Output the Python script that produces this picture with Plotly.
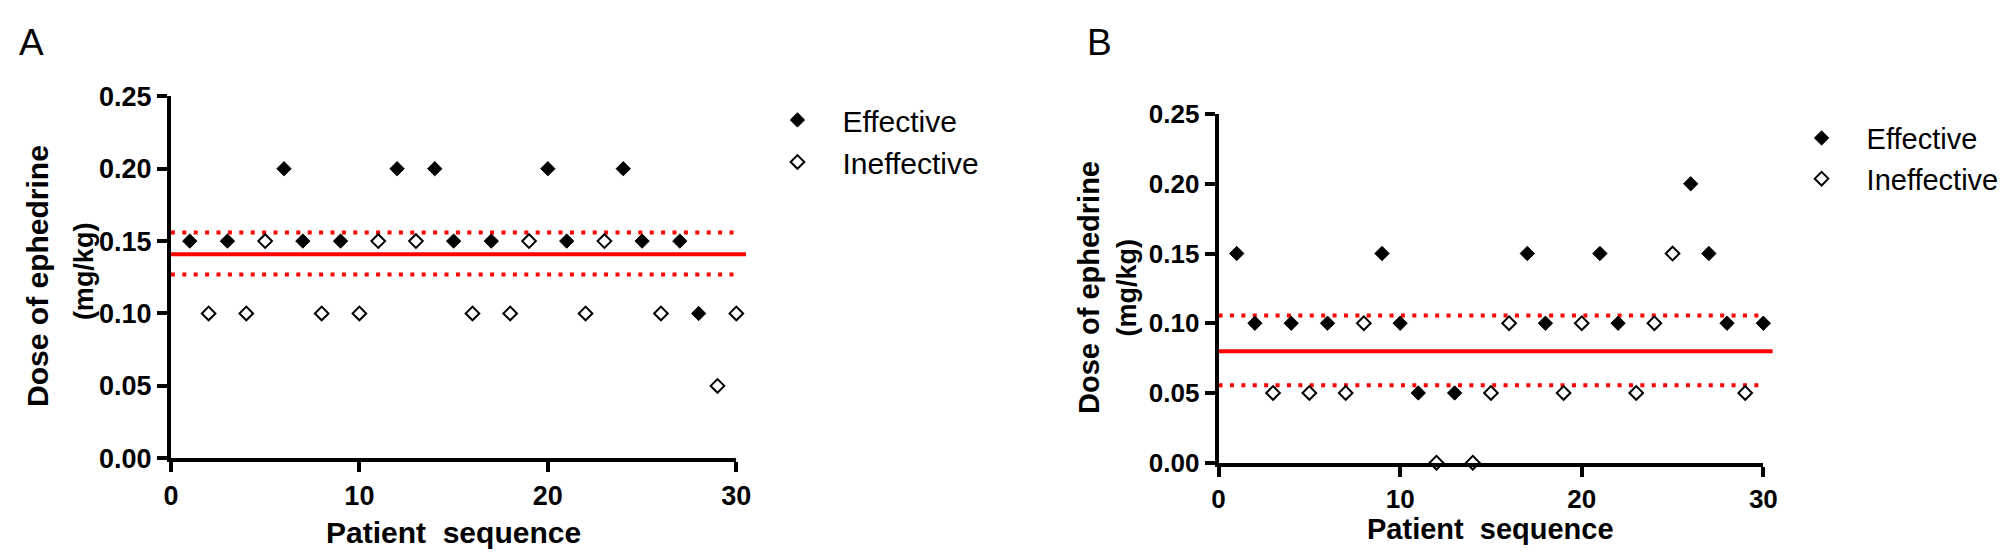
import plotly.graph_objects as go

W, H = 2007, 558

# ---------------- data ----------------
patients = list(range(1, 31))

# Panel A: dose (mg/kg) and response (1 = effective, 0 = ineffective)
dose_a = [0.15, 0.10, 0.15, 0.10, 0.15, 0.20, 0.15, 0.10, 0.15, 0.10,
          0.15, 0.20, 0.15, 0.20, 0.15, 0.10, 0.15, 0.10, 0.15, 0.20,
          0.15, 0.10, 0.15, 0.20, 0.15, 0.10, 0.15, 0.10, 0.05, 0.10]
resp_a = [1, 0, 1, 0, 0, 1, 1, 0, 1, 0,
          0, 1, 0, 1, 1, 0, 1, 0, 0, 1,
          1, 0, 0, 1, 1, 0, 1, 1, 0, 0]

# Panel B
dose_b = [0.15, 0.10, 0.05, 0.10, 0.05, 0.10, 0.05, 0.10, 0.15, 0.10,
          0.05, 0.00, 0.05, 0.00, 0.05, 0.10, 0.15, 0.10, 0.05, 0.10,
          0.15, 0.10, 0.05, 0.10, 0.15, 0.20, 0.15, 0.10, 0.05, 0.10]
resp_b = [1, 1, 0, 1, 0, 1, 0, 0, 1, 1,
          1, 0, 1, 0, 0, 0, 1, 1, 0, 0,
          1, 1, 0, 0, 0, 1, 1, 1, 0, 1]

# ED50 and 95% CI lines
ed50_a, ci_lo_a, ci_hi_a = 0.141, 0.127, 0.156
ed50_b, ci_lo_b, ci_hi_b = 0.080, 0.0555, 0.1055
ci_x = [0, 30.1]

x_ticks = [0, 10, 20, 30]
y_ticks = [0.00, 0.05, 0.10, 0.15, 0.20, 0.25]
legend_names = ["Effective", "Ineffective"]

# ---------------- figure ----------------
fig = go.Figure()
RED = "#FF0000"
FONT = "Liberation Sans, Arial, sans-serif"


def add_panel(dose, resp, ed50, lo, hi, xa, ya, legend):
    for yv in (hi, lo):
        fig.add_trace(go.Scatter(x=ci_x, y=[yv, yv], mode="lines", xaxis=xa, yaxis=ya,
                                 line=dict(color=RED, width=4, dash="4px,7.4px"),
                                 showlegend=False, hoverinfo="skip", cliponaxis=False))
    # ED50 line: spans the whole axis width (slightly past the last tick)
    fig.add_shape(type="line", xref=xa + " domain", yref=ya, x0=0, x1=1.017,
                  y0=ed50, y1=ed50, line=dict(color=RED, width=4), layer="below")
    ex = [p for p, r in zip(patients, resp) if r == 1]
    ey = [d for d, r in zip(dose, resp) if r == 1]
    ix = [p for p, r in zip(patients, resp) if r == 0]
    iy = [d for d, r in zip(dose, resp) if r == 0]
    fig.add_trace(go.Scatter(x=ex, y=ey, mode="markers", name=legend_names[0],
                             xaxis=xa, yaxis=ya, legend=legend, legendgroup=legend + "e",
                             marker=dict(symbol="diamond", size=11, color="black",
                                         line=dict(color="black", width=1)),
                             cliponaxis=False))
    fig.add_trace(go.Scatter(x=ix, y=iy, mode="markers", name=legend_names[1],
                             xaxis=xa, yaxis=ya, legend=legend, legendgroup=legend + "i",
                             marker=dict(symbol="diamond", size=10.5, color="white",
                                         line=dict(color="black", width=2)),
                             cliponaxis=False))


add_panel(dose_a, resp_a, ed50_a, ci_lo_a, ci_hi_a, "x", "y", "legend")
add_panel(dose_b, resp_b, ed50_b, ci_lo_b, ci_hi_b, "x2", "y2", "legend2")


def xdom(a, b):
    return [a / W, b / W]


def ydom(top, bottom):
    return [(H - bottom) / H, (H - top) / H]


def axis_style(fsz):
    return dict(showline=True, linecolor="black", linewidth=4, ticks="outside",
                ticklen=10, tickwidth=4, tickcolor="black", showgrid=False,
                zeroline=False, layer="above traces",
                tickfont=dict(family=FONT, size=fsz, color="black", weight="bold"))


fig.update_layout(
    width=W, height=H, margin=dict(l=0, r=0, t=0, b=0),
    paper_bgcolor="white", plot_bgcolor="white",
    xaxis=dict(domain=xdom(156.7, 728.7), range=[0, 30], tickvals=x_ticks, anchor="y",
               **axis_style(27)),
    yaxis=dict(domain=ydom(77.5, 460), range=[0, 0.25], tickvals=y_ticks, tickformat=".2f",
               anchor="x", **axis_style(27)),
    xaxis2=dict(domain=xdom(1216.5, 1767.6), range=[0, 30], tickvals=x_ticks, anchor="y2",
                **axis_style(26)),
    yaxis2=dict(domain=ydom(96.2, 464.7), range=[0, 0.25], tickvals=y_ticks, tickformat=".2f",
                anchor="x2", **axis_style(26)),
    legend=dict(x=(790 - 45) / W, xanchor="left", y=(H - 104 + 29) / H, yanchor="top",
                font=dict(family=FONT, size=30, color="black"), tracegroupgap=0,
                bgcolor="rgba(0,0,0,0)", itemwidth=80),
    legend2=dict(x=(1826 - 45) / W, xanchor="left", y=(H - 121.7 + 27) / H, yanchor="top",
                 font=dict(family=FONT, size=29, color="black"), tracegroupgap=0,
                 bgcolor="rgba(0,0,0,0)", itemwidth=80),
    showlegend=True,
)

anns = [
    ("A", 16, 21, 0, 37, "normal"),
    ("B", 1096, 21, 0, 37, "normal"),
    ("Dose of ephedrine", 21, 267.5, -90, 30, "bold"),
    ("(mg/kg)", 69, 262, -90, 27, "bold"),
    ("Dose of ephedrine", 1085.5, 280, -90, 29, "bold"),
    ("(mg/kg)", 1123.5, 280, -90, 27, "bold"),
    ("Patient  sequence", 442.5, 538, 0, 30, "bold"),
    ("Patient  sequence", 1492, 535, 0, 29, "bold"),
]
for text, px, py, ang, fs, wt in anns:
    fig.add_annotation(text=text.replace("  ", "&nbsp; "), x=px / W, y=(H - py) / H,
                       xref="paper", yref="paper", xanchor="center", yanchor="middle",
                       showarrow=False, textangle=ang,
                       font=dict(family=FONT, size=fs, color="black", weight=wt))

fig.write_html("out.html")
